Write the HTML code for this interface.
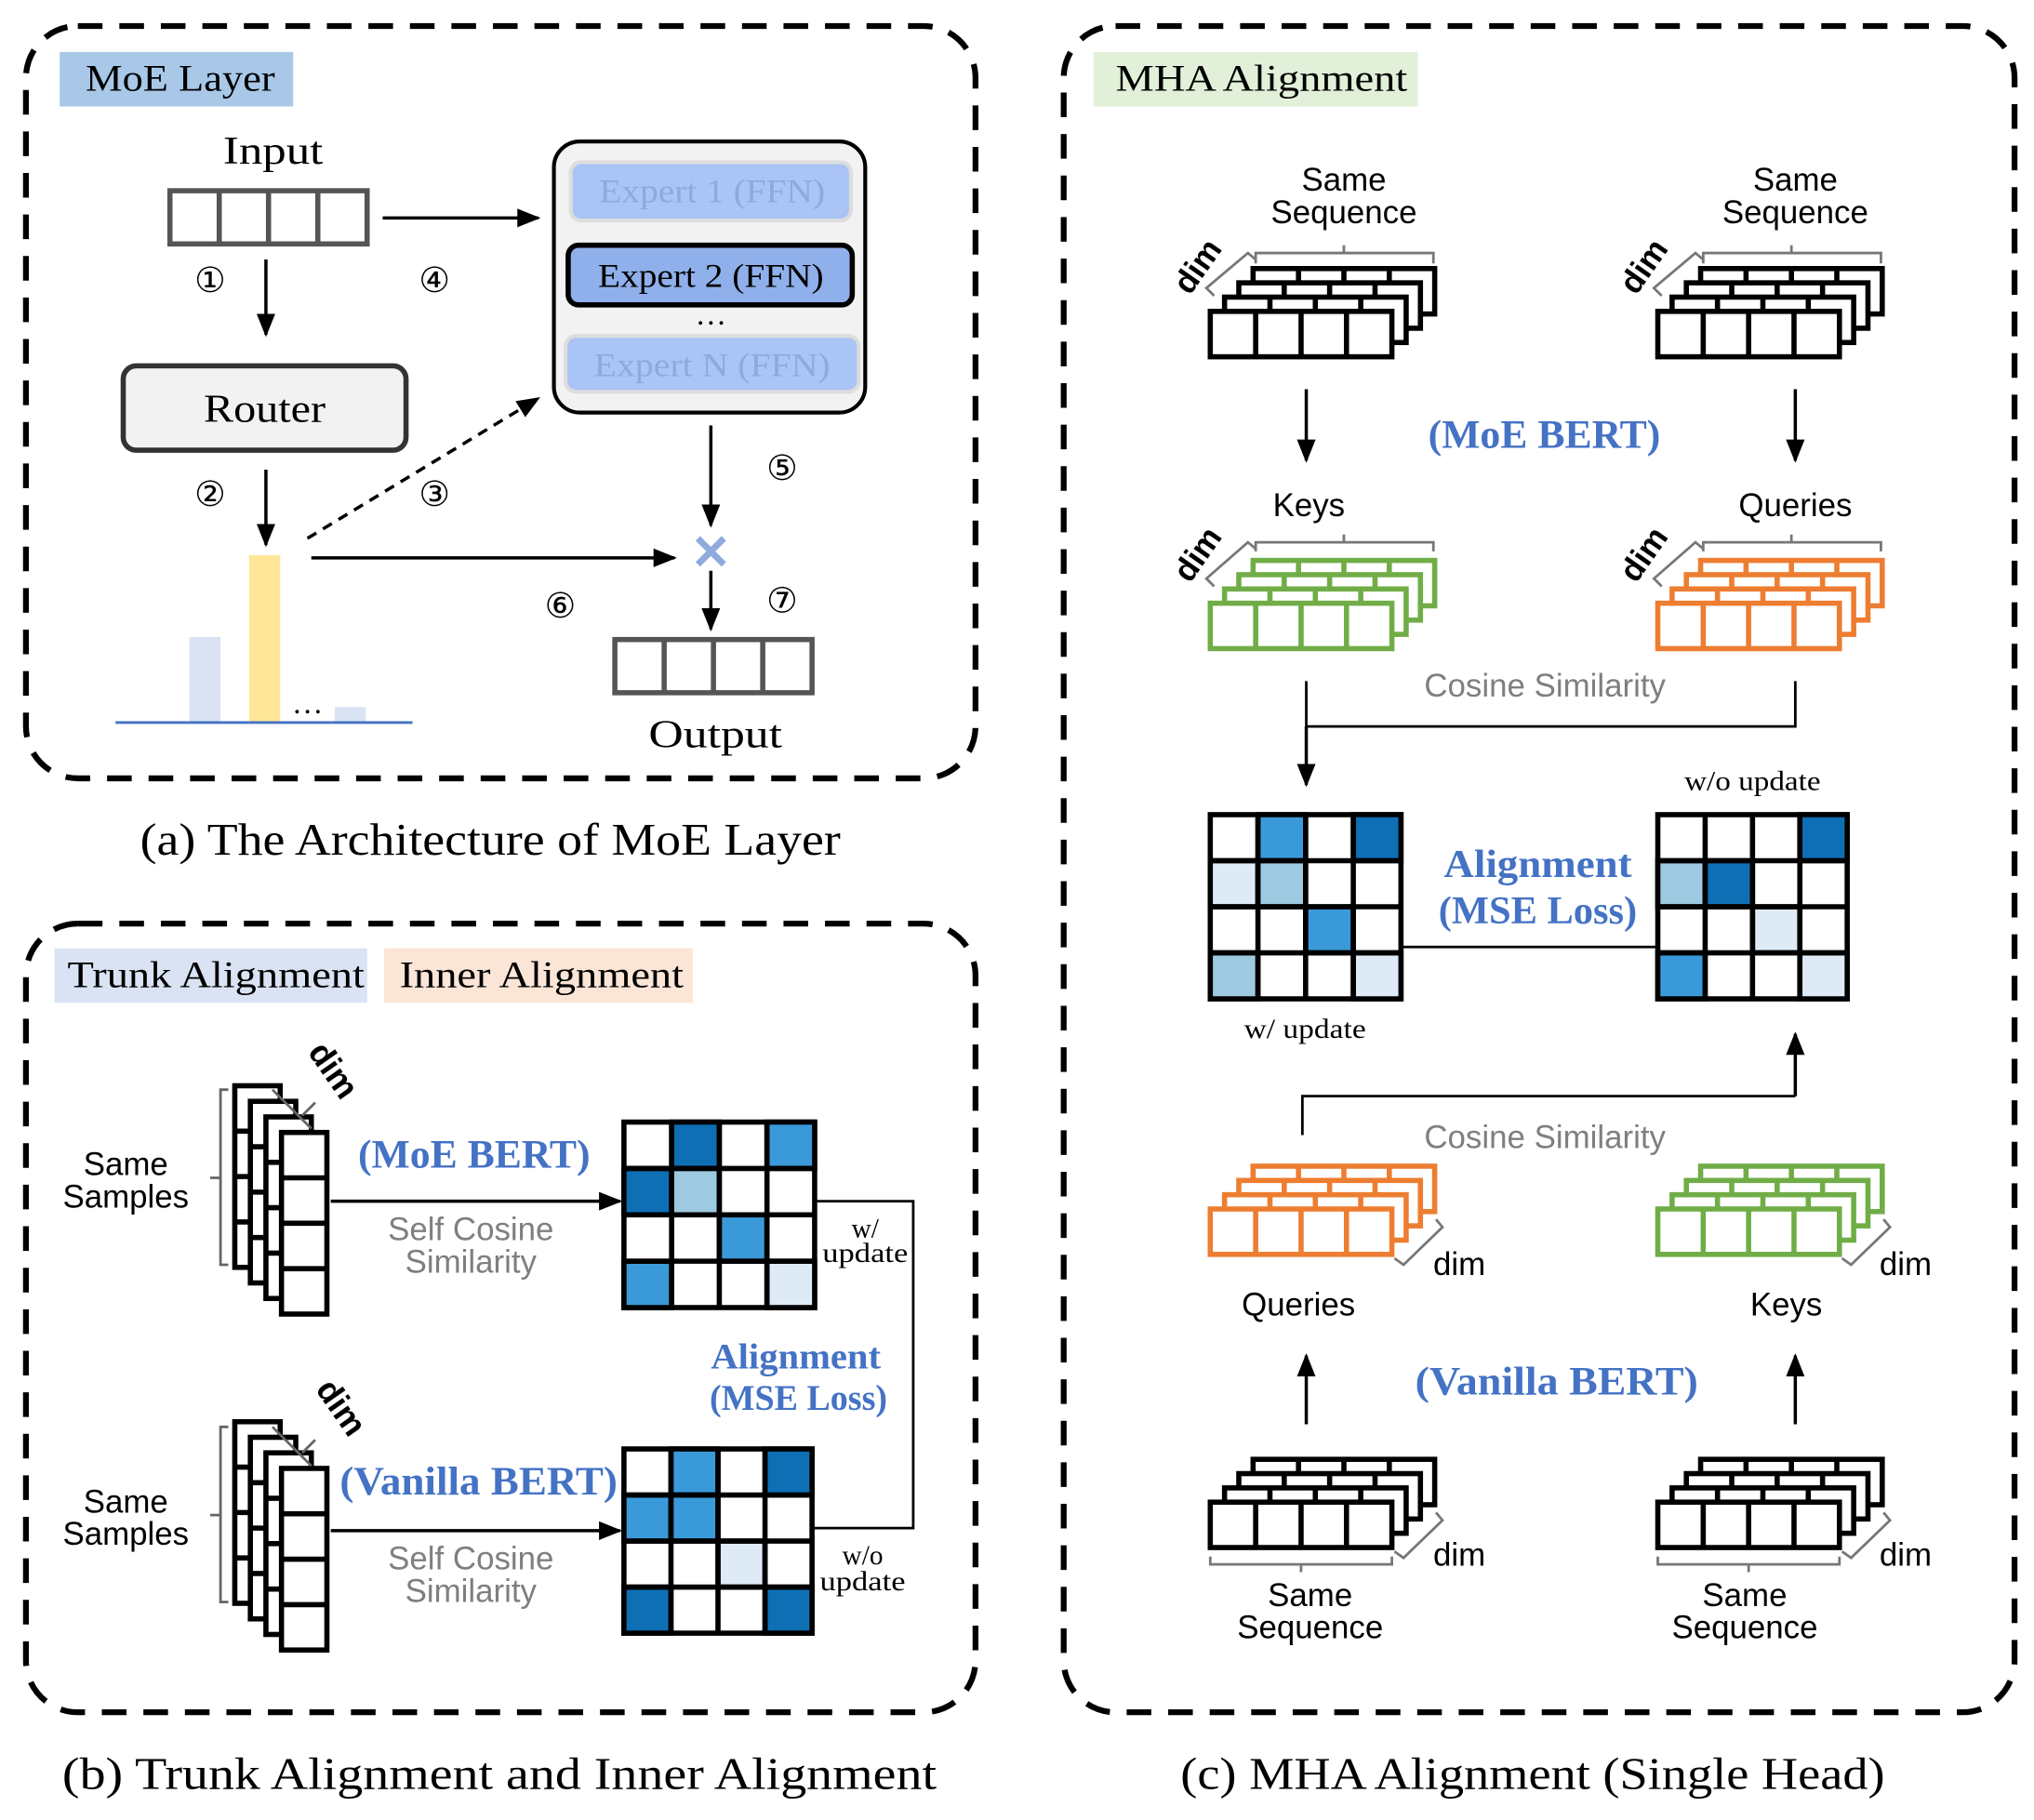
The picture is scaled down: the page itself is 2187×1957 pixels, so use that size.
<!DOCTYPE html>
<html><head><meta charset="utf-8"><style>html,body{margin:0;padding:0;background:#fff}svg{display:block}
.s{font-family:"Liberation Serif",serif}.a{font-family:"Liberation Sans",sans-serif}</style></head>
<body>
<svg width="2187" height="1957" viewBox="0 0 1568 1403" xmlns="http://www.w3.org/2000/svg">
<defs>
<marker id="ah" viewBox="0 0 10 10" markerWidth="18" markerHeight="18" refX="9" refY="5" orient="auto" markerUnits="userSpaceOnUse"><path d="M0,1 L10,5 L0,9 z" fill="#000"/></marker>
<g id="row"><rect x="0" y="0" width="140" height="35" fill="#fff" stroke="currentColor" stroke-width="4"/><path d="M35,0V35M70,0V35M105,0V35" stroke="currentColor" stroke-width="4"/></g>
<g id="hs"><use href="#row" x="33" y="-33"/><use href="#row" x="22" y="-22"/><use href="#row" x="11" y="-11"/><use href="#row" x="0" y="0"/></g>
<g id="col"><rect x="0" y="0" width="35" height="140" fill="#fff" stroke="#000" stroke-width="4"/><path d="M0,35H35M0,70H35M0,105H35" stroke="#000" stroke-width="4"/></g>
<g id="vs"><use href="#col" x="-36" y="-36"/><use href="#col" x="-24" y="-24"/><use href="#col" x="-12" y="-12"/><use href="#col" x="0" y="0"/></g>
</defs>
<g fill="none" stroke="#000" stroke-width="4.5" stroke-dasharray="19,13">
<rect x="20" y="20" width="732" height="580" rx="40"/>
<rect x="20" y="712" width="732" height="608" rx="40"/>
<rect x="820" y="20" width="733" height="1300" rx="40"/>
</g>
<!-- (a) -->
<rect x="46" y="40" width="180" height="42" fill="#a9c8e8"/>
<text x="66" y="70" class="s" font-size="29" textLength="146" lengthAdjust="spacingAndGlyphs">MoE Layer</text>
<text x="172" y="126" class="s" font-size="30" textLength="77" lengthAdjust="spacingAndGlyphs">Input</text>
<rect x="131" y="147" width="152" height="41" fill="#fff" stroke="#555" stroke-width="4"/>
<path d="M169,147V188M207,147V188M245,147V188" stroke="#555" stroke-width="4"/>
<g class="s" font-size="27" text-anchor="middle">
<text x="162" y="225">①</text><text x="335" y="225">④</text><text x="162" y="390">②</text><text x="335" y="390">③</text>
<text x="432" y="476">⑥</text><text x="603" y="370">⑤</text><text x="603" y="472">⑦</text></g>
<g stroke="#000" stroke-width="2.5" marker-end="url(#ah)">
<line x1="205" y1="200" x2="205" y2="258"/><line x1="295" y1="168" x2="415" y2="168"/>
<line x1="205" y1="362" x2="205" y2="420"/><line x1="240" y1="430" x2="520" y2="430"/>
<line x1="548" y1="328" x2="548" y2="405"/><line x1="548" y1="440" x2="548" y2="485"/>
<line x1="237" y1="415" x2="415" y2="307" stroke-dasharray="8,6"/></g>
<rect x="95" y="282" width="218" height="65" rx="10" fill="#f2f2f2" stroke="#333" stroke-width="4"/>
<text x="157" y="325" class="s" font-size="30" textLength="94" lengthAdjust="spacingAndGlyphs">Router</text>
<rect x="146" y="491" width="24" height="66" fill="#dae3f3"/>
<rect x="192" y="428" width="24" height="129" fill="#ffe699"/>
<rect x="258" y="545" width="24" height="12" fill="#dae3f3"/>
<text x="237" y="550" class="s" font-size="24" text-anchor="middle">…</text>
<line x1="89" y1="557" x2="318" y2="557" stroke="#4472c4" stroke-width="2"/>
<path d="M538,415L558,435M558,415L538,435" stroke="#8faadc" stroke-width="5"/>
<rect x="427" y="109" width="240" height="209" rx="20" fill="#f2f2f2" stroke="#000" stroke-width="3"/>
<rect x="440" y="125" width="216" height="45" rx="8" fill="#a9c4f5" stroke="#ddd" stroke-width="3"/>
<text x="462" y="156" class="s" font-size="26" fill="#8ea9db" textLength="174" lengthAdjust="spacingAndGlyphs">Expert 1 (FFN)</text>
<rect x="438" y="189" width="219" height="46" rx="8" fill="#8fb0ea" stroke="#000" stroke-width="4"/>
<text x="461" y="221" class="s" font-size="26" textLength="174" lengthAdjust="spacingAndGlyphs">Expert 2 (FFN)</text>
<text x="548" y="250" class="s" font-size="24" text-anchor="middle">…</text>
<rect x="436" y="259" width="226" height="43" rx="8" fill="#a9c4f5" stroke="#ddd" stroke-width="3"/>
<text x="458" y="290" class="s" font-size="26" fill="#8ea9db" textLength="182" lengthAdjust="spacingAndGlyphs">Expert N (FFN)</text>
<rect x="474" y="493" width="152" height="41" fill="#fff" stroke="#555" stroke-width="4"/>
<path d="M512,493V534M550,493V534M588,493V534" stroke="#555" stroke-width="4"/>
<text x="500" y="576" class="s" font-size="30" textLength="103" lengthAdjust="spacingAndGlyphs">Output</text>
<text x="108" y="659" class="s" font-size="35" textLength="540" lengthAdjust="spacingAndGlyphs">(a) The Architecture of MoE Layer</text>
<!-- (b) -->
<rect x="42" y="731" width="241" height="42" fill="#dae3f3"/>
<text x="52" y="761" class="s" font-size="29" textLength="229" lengthAdjust="spacingAndGlyphs">Trunk Alignment</text>
<rect x="296" y="731" width="238" height="42" fill="#fbe5d6"/>
<text x="308" y="761" class="s" font-size="29" textLength="219" lengthAdjust="spacingAndGlyphs">Inner Alignment</text>
<use href="#vs" x="217" y="873"/>
<use href="#vs" x="217" y="1132"/>
<g stroke="#666" stroke-width="2" fill="none">
<path d="M176,840H170V975H176M170,908H162"/><path d="M176,1100H170V1235H176M170,1168H162"/>
<path d="M210,840L240,870M243,850L233,860"/><path d="M210,1100L240,1130M243,1110L233,1120"/></g>
<text x="250" y="830" class="a" font-size="26" font-weight="bold" transform="rotate(55 250 830)" text-anchor="middle">dim</text>
<text x="256" y="1090" class="a" font-size="26" font-weight="bold" transform="rotate(55 256 1090)" text-anchor="middle">dim</text>
<g class="a" font-size="25" text-anchor="middle">
<text x="97" y="906">Same</text><text x="97" y="931">Samples</text>
<text x="97" y="1166">Same</text><text x="97" y="1191">Samples</text></g>
<g class="a" font-size="25" text-anchor="middle" fill="#7f7f7f">
<text x="363" y="956">Self Cosine</text><text x="363" y="981">Similarity</text>
<text x="363" y="1210">Self Cosine</text><text x="363" y="1235">Similarity</text></g>
<g class="s" font-weight="bold" fill="#4472c4" lengthAdjust="spacingAndGlyphs">
<text x="276" y="900" font-size="31" textLength="179" lengthAdjust="spacingAndGlyphs">(MoE BERT)</text>
<text x="262" y="1152" font-size="31" textLength="214" lengthAdjust="spacingAndGlyphs">(Vanilla BERT)</text>
<text x="548" y="1055" font-size="28" textLength="131" lengthAdjust="spacingAndGlyphs">Alignment</text>
<text x="547" y="1087" font-size="28" textLength="137" lengthAdjust="spacingAndGlyphs">(MSE Loss)</text>
<text x="1101" y="345" font-size="31" textLength="179" lengthAdjust="spacingAndGlyphs">(MoE BERT)</text>
<text x="1091" y="1075" font-size="31" textLength="218" lengthAdjust="spacingAndGlyphs">(Vanilla BERT)</text>
<text x="1113" y="676" font-size="30" textLength="145" lengthAdjust="spacingAndGlyphs">Alignment</text>
<text x="1109" y="712" font-size="30" textLength="153" lengthAdjust="spacingAndGlyphs">(MSE Loss)</text></g>
<g stroke="#000" stroke-width="2.5" marker-end="url(#ah)">
<line x1="255" y1="926" x2="478" y2="926"/><line x1="255" y1="1180" x2="478" y2="1180"/></g>
<path d="M628,926H704V1178H628" fill="none" stroke="#000" stroke-width="2"/>
<g class="s" font-size="21" text-anchor="middle">
<text x="667" y="954">w/</text><text x="667" y="973" textLength="66" lengthAdjust="spacingAndGlyphs">update</text>
<text x="665" y="1206">w/o</text><text x="665" y="1226" textLength="66" lengthAdjust="spacingAndGlyphs">update</text>
<text x="1006" y="800" textLength="94" lengthAdjust="spacingAndGlyphs">w/ update</text><text x="1351" y="609" textLength="105" lengthAdjust="spacingAndGlyphs">w/o update</text></g>
<!-- matrices -->
<g stroke="#000" stroke-width="4">
<g transform="translate(481,865)"><rect width="147" height="143" fill="#fff"/>
<rect x="36.75" y="0" width="36.75" height="35.75" fill="#0f6fb5"/><rect x="110.25" y="0" width="36.75" height="35.75" fill="#3a9ad9"/>
<rect x="0" y="35.75" width="36.75" height="35.75" fill="#0f6fb5"/><rect x="36.75" y="35.75" width="36.75" height="35.75" fill="#9ecae1"/>
<rect x="73.5" y="71.5" width="36.75" height="35.75" fill="#3a9ad9"/>
<rect x="0" y="107.25" width="36.75" height="35.75" fill="#3a9ad9"/><rect x="110.25" y="107.25" width="36.75" height="35.75" fill="#deebf7"/>
<path d="M36.75,0V143M73.5,0V143M110.25,0V143M0,35.75H147M0,71.5H147M0,107.25H147" fill="none"/></g>
<g transform="translate(481,1117)"><rect width="145" height="142" fill="#fff"/>
<rect x="36.25" y="0" width="36.25" height="35.5" fill="#3a9ad9"/><rect x="108.75" y="0" width="36.25" height="35.5" fill="#0f6fb5"/>
<rect x="0" y="35.5" width="36.25" height="35.5" fill="#3a9ad9"/><rect x="36.25" y="35.5" width="36.25" height="35.5" fill="#3a9ad9"/>
<rect x="72.5" y="71" width="36.25" height="35.5" fill="#deebf7"/>
<rect x="0" y="106.5" width="36.25" height="35.5" fill="#0f6fb5"/><rect x="108.75" y="106.5" width="36.25" height="35.5" fill="#0f6fb5"/>
<path d="M36.25,0V142M72.5,0V142M108.75,0V142M0,35.5H145M0,71H145M0,106.5H145" fill="none"/></g>
<g transform="translate(933,628)"><rect width="147" height="142" fill="#fff"/>
<rect x="36.75" y="0" width="36.75" height="35.5" fill="#3a9ad9"/><rect x="110.25" y="0" width="36.75" height="35.5" fill="#0f6fb5"/>
<rect x="0" y="35.5" width="36.75" height="35.5" fill="#deebf7"/><rect x="36.75" y="35.5" width="36.75" height="35.5" fill="#9ecae1"/>
<rect x="73.5" y="71" width="36.75" height="35.5" fill="#3a9ad9"/>
<rect x="0" y="106.5" width="36.75" height="35.5" fill="#9ecae1"/><rect x="110.25" y="106.5" width="36.75" height="35.5" fill="#deebf7"/>
<path d="M36.75,0V142M73.5,0V142M110.25,0V142M0,35.5H147M0,71H147M0,106.5H147" fill="none"/></g>
<g transform="translate(1278,628)"><rect width="146" height="142" fill="#fff"/>
<rect x="109.5" y="0" width="36.5" height="35.5" fill="#0f6fb5"/>
<rect x="0" y="35.5" width="36.5" height="35.5" fill="#9ecae1"/><rect x="36.5" y="35.5" width="36.5" height="35.5" fill="#0f6fb5"/>
<rect x="73" y="71" width="36.5" height="35.5" fill="#deebf7"/>
<rect x="0" y="106.5" width="36.5" height="35.5" fill="#3a9ad9"/><rect x="109.5" y="106.5" width="36.5" height="35.5" fill="#deebf7"/>
<path d="M36.5,0V142M73,0V142M109.5,0V142M0,35.5H146M0,71H146M0,106.5H146" fill="none"/></g>
</g>
<text x="48" y="1379" class="s" font-size="35" textLength="674" lengthAdjust="spacingAndGlyphs">(b) Trunk Alignment and Inner Alignment</text>
<!-- (c) -->
<rect x="843" y="40" width="250" height="42" fill="#e2f0d9"/>
<text x="860" y="70" class="s" font-size="29" textLength="225" lengthAdjust="spacingAndGlyphs">MHA Alignment</text>
<g class="a" font-size="25" text-anchor="middle">
<text x="1036" y="147">Same</text><text x="1036" y="172">Sequence</text>
<text x="1384" y="147">Same</text><text x="1384" y="172">Sequence</text>
<text x="1009" y="398">Keys</text><text x="1384" y="398">Queries</text>
<text x="1001" y="1014">Queries</text><text x="1377" y="1014">Keys</text>
<text x="1010" y="1238">Same</text><text x="1010" y="1263">Sequence</text>
<text x="1345" y="1238">Same</text><text x="1345" y="1263">Sequence</text>
<text x="1125" y="983">dim</text><text x="1469" y="983">dim</text>
<text x="1125" y="1207">dim</text><text x="1469" y="1207">dim</text></g>
<g class="a" font-size="25" text-anchor="middle" font-weight="bold">
<text x="930" y="210" transform="rotate(-55 930 210)">dim</text><text x="1274" y="210" transform="rotate(-55 1274 210)">dim</text>
<text x="930" y="432" transform="rotate(-55 930 432)">dim</text><text x="1274" y="432" transform="rotate(-55 1274 432)">dim</text></g>
<use href="#hs" x="933" y="240" color="#000"/><use href="#hs" x="1278" y="240" color="#000"/>
<use href="#hs" x="933" y="465" color="#70ad47"/><use href="#hs" x="1278" y="465" color="#ed7d31"/>
<use href="#hs" x="933" y="932" color="#ed7d31"/><use href="#hs" x="1278" y="932" color="#70ad47"/>
<use href="#hs" x="933" y="1158" color="#000"/><use href="#hs" x="1278" y="1158" color="#000"/>
<g stroke="#777" stroke-width="2" fill="none">
<path d="M968,203V195H1105V203M1036,195V189"/><path d="M1313,203V195H1450V203M1381,195V189"/>
<path d="M968,425V418H1105V425M1036,418V412"/><path d="M1313,425V418H1450V425M1381,418V412"/>
<path d="M936,228L930,222L962,195L968,200"/><path d="M1281,228L1275,222L1307,195L1313,200"/>
<path d="M936,452L930,446L962,418L968,423"/><path d="M1281,452L1275,446L1307,418L1313,423"/>
<path d="M1075,970L1082,975L1112,946L1107,940"/><path d="M1420,970L1427,975L1457,946L1452,940"/>
<path d="M1075,1196L1082,1201L1112,1172L1107,1166"/><path d="M1420,1196L1427,1201L1457,1172L1452,1166"/>
<path d="M933,1200V1206H1073V1200M1003,1206V1212"/><path d="M1278,1200V1206H1418V1200M1348,1206V1212"/></g>
<g stroke="#000" stroke-width="2.5" marker-end="url(#ah)">
<line x1="1007" y1="300" x2="1007" y2="355"/><line x1="1384" y1="300" x2="1384" y2="355"/>
<line x1="1007" y1="560" x2="1007" y2="605"/><line x1="1384" y1="845" x2="1384" y2="797"/>
<line x1="1007" y1="1098" x2="1007" y2="1045"/><line x1="1384" y1="1098" x2="1384" y2="1045"/></g>
<g stroke="#000" stroke-width="2" fill="none">
<path d="M1007,525V560H1384V525"/><path d="M1004,875V845H1384"/><path d="M1080,730H1278"/></g>
<g class="a" font-size="25" text-anchor="middle" fill="#7f7f7f">
<text x="1191" y="537">Cosine Similarity</text><text x="1191" y="885">Cosine Similarity</text></g>
<text x="910" y="1379" class="s" font-size="35" textLength="543" lengthAdjust="spacingAndGlyphs">(c) MHA Alignment (Single Head)</text>
</svg>
</body></html>
